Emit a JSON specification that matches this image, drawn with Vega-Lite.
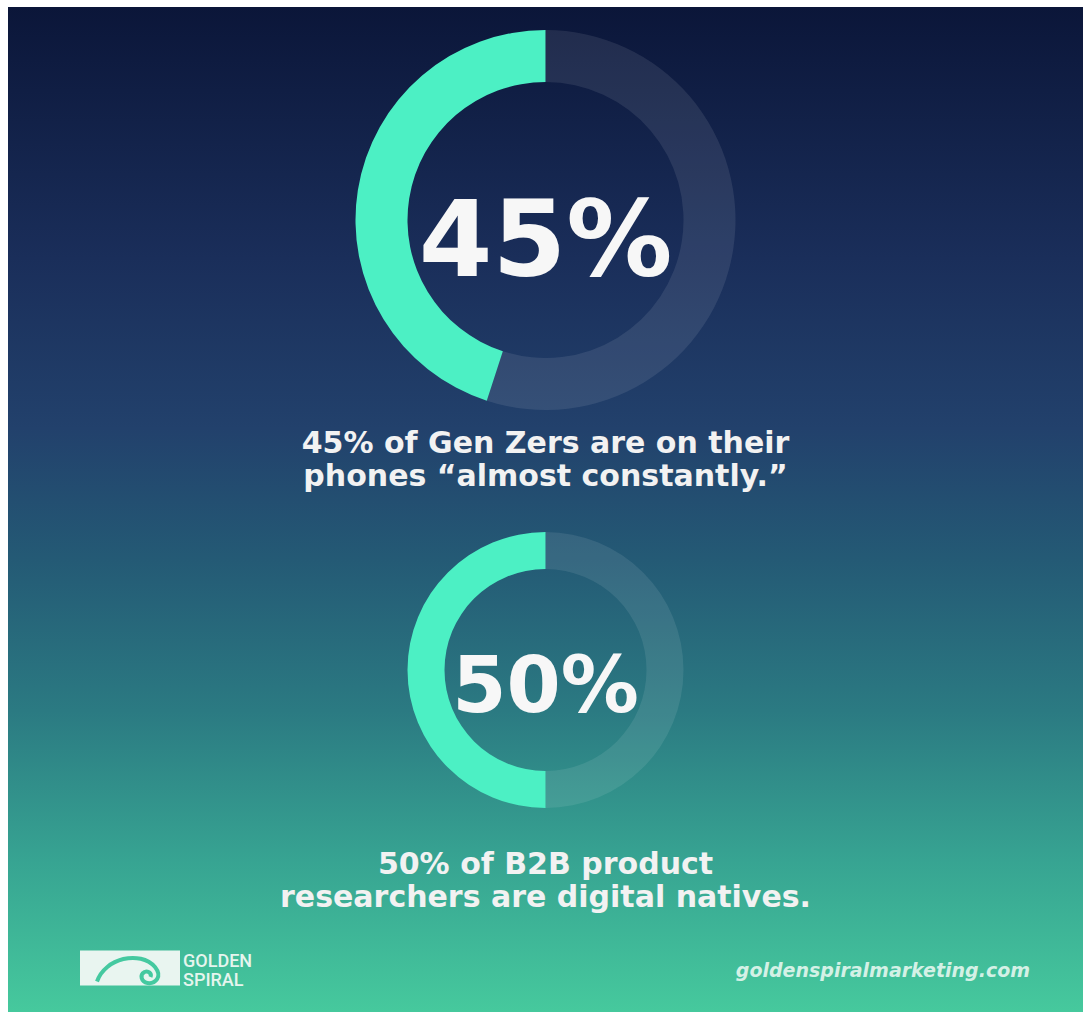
{
  "$schema": "https://vega.github.io/schema/vega-lite/v6.json",
  "width": 1075,
  "height": 1005,
  "padding": {"left": 8, "top": 7, "right": 0, "bottom": 0},
  "autosize": {"type": "none"},
  "background": "#ffffff",
  "config": {
    "view": {
      "stroke": null,
      "fill": {
        "gradient": "linear",
        "x1": 0, "y1": 0, "x2": 0, "y2": 1,
        "stops": [
          {"offset": 0, "color": "#0b1639"},
          {"offset": 0.25, "color": "#1a2e5a"},
          {"offset": 0.42, "color": "#22416c"},
          {"offset": 0.55, "color": "#245a75"},
          {"offset": 0.7, "color": "#2b7a82"},
          {"offset": 0.85, "color": "#37a492"},
          {"offset": 1, "color": "#46c99d"}
        ]
      }
    }
  },
  "data": {
    "values": [
      {"section": 1, "stat": "Gen Z", "part": "share", "value": 45, "label": "45%", "caption": "45% of Gen Zers are on their\nphones “almost constantly.”"},
      {"section": 1, "stat": "Gen Z", "part": "rest", "value": 55},
      {"section": 2, "stat": "B2B", "part": "share", "value": 50, "label": "50%", "caption": "50% of B2B product\nresearchers are digital natives."},
      {"section": 2, "stat": "B2B", "part": "rest", "value": 50},
      {"section": 3, "item": "logo", "brand": "GOLDEN\nSPIRAL"},
      {"section": 3, "item": "url", "brand": "goldenspiralmarketing.com"}
    ]
  },
  "encoding": {
    "y": {
      "field": "section",
      "type": "quantitative",
      "stack": null,
      "scale": {"domain": [1, 2, 3], "range": [213, 663, 961], "zero": false, "nice": false},
      "axis": null
    }
  },
  "layer": [
    {
      "transform": [
        {"filter": "datum.section === 1"},
        {"stack": "value", "groupby": ["stat"], "sort": [{"field": "part", "order": "ascending"}], "as": ["v0", "v1"]}
      ],
      "mark": {"type": "arc", "radius": 190, "radius2": 138, "stroke": null},
      "encoding": {
        "theta": {"field": "v0", "type": "quantitative", "stack": null, "scale": {"domain": [0, 100], "range": [0, 6.283185307179586]}},
        "theta2": {"field": "v1"},
        "color": {"field": "part", "type": "nominal", "scale": {"domain": ["rest", "share"], "range": ["rgba(255,255,255,0.09)", "#4cf0c4"]}, "legend": null}
      }
    },
    {
      "transform": [
        {"filter": "datum.section === 2"},
        {"stack": "value", "groupby": ["stat"], "sort": [{"field": "part", "order": "ascending"}], "as": ["v0", "v1"]}
      ],
      "mark": {"type": "arc", "radius": 138, "radius2": 101, "stroke": null},
      "encoding": {
        "theta": {"field": "v0", "type": "quantitative", "stack": null},
        "theta2": {"field": "v1"},
        "color": {"field": "part", "type": "nominal", "legend": null}
      }
    },
    {
      "transform": [{"filter": "datum.section === 1 && datum.part === 'share'"}],
      "mark": {"type": "text", "font": "DejaVu Sans", "fontWeight": "bold", "fontSize": 106, "color": "#f7f7f7", "align": "center", "baseline": "alphabetic", "dy": 56},
      "encoding": {"text": {"field": "label"}}
    },
    {
      "transform": [{"filter": "datum.section === 2 && datum.part === 'share'"}],
      "mark": {"type": "text", "font": "DejaVu Sans", "fontWeight": "bold", "fontSize": 78, "color": "#f7f7f7", "align": "center", "baseline": "alphabetic", "dy": 42},
      "encoding": {"text": {"field": "label"}}
    },
    {
      "transform": [{"filter": "datum.section === 1 && datum.part === 'share'"}],
      "mark": {"type": "text", "font": "DejaVu Sans", "fontWeight": "bold", "fontSize": 30, "lineHeight": 33, "lineBreak": "\n", "color": "#f2f2f2", "align": "center", "baseline": "alphabetic", "dy": 233},
      "encoding": {"text": {"field": "caption"}}
    },
    {
      "transform": [{"filter": "datum.section === 2 && datum.part === 'share'"}],
      "mark": {"type": "text", "font": "DejaVu Sans", "fontWeight": "bold", "fontSize": 30, "lineHeight": 33, "lineBreak": "\n", "color": "#f2f2f2", "align": "center", "baseline": "alphabetic", "dy": 204},
      "encoding": {"text": {"field": "caption"}}
    },
    {
      "transform": [{"filter": "datum.item === 'logo'"}],
      "mark": {"type": "point", "shape": "M-1,-0.35L1,-0.35L1,0.35L-1,0.35Z", "size": 10000, "filled": true, "color": "#e9f5f0", "opacity": 1},
      "encoding": {
        "x": {"field": "item", "type": "nominal", "scale": {"type": "point", "domain": ["logo", "url"], "range": [122, 1022], "padding": 0}, "axis": null}
      }
    },
    {
      "transform": [{"filter": "datum.item === 'logo'"}],
      "mark": {"type": "point", "shape": "M-0.66,0.27C-0.5,-0.2 0.2,-0.36 0.5,-0.02C0.66,0.18 0.5,0.32 0.35,0.3C0.22,0.28 0.19,0.13 0.29,0.08C0.37,0.05 0.44,0.11 0.41,0.18", "size": 10000, "filled": false, "fill": null, "stroke": "#45c9a0", "strokeWidth": 4, "opacity": 1},
      "encoding": {
        "x": {"field": "item", "type": "nominal", "axis": null}
      }
    },
    {
      "transform": [{"filter": "datum.item === 'logo'"}],
      "mark": {"type": "text", "font": "Roboto", "fontWeight": 500, "fontSize": 18, "lineHeight": 19, "lineBreak": "\n", "color": "#e6f5ee", "align": "left", "baseline": "alphabetic", "dx": 53, "dy": -1},
      "encoding": {
        "x": {"field": "item", "type": "nominal", "axis": null},
        "text": {"field": "brand"}
      }
    },
    {
      "transform": [{"filter": "datum.item === 'url'"}],
      "mark": {"type": "text", "font": "DejaVu Sans", "fontStyle": "italic", "fontWeight": "bold", "fontSize": 19, "color": "#d4f1e6", "align": "right", "baseline": "alphabetic", "dy": 9},
      "encoding": {
        "x": {"field": "item", "type": "nominal", "axis": null},
        "text": {"field": "brand"}
      }
    }
  ]
}
